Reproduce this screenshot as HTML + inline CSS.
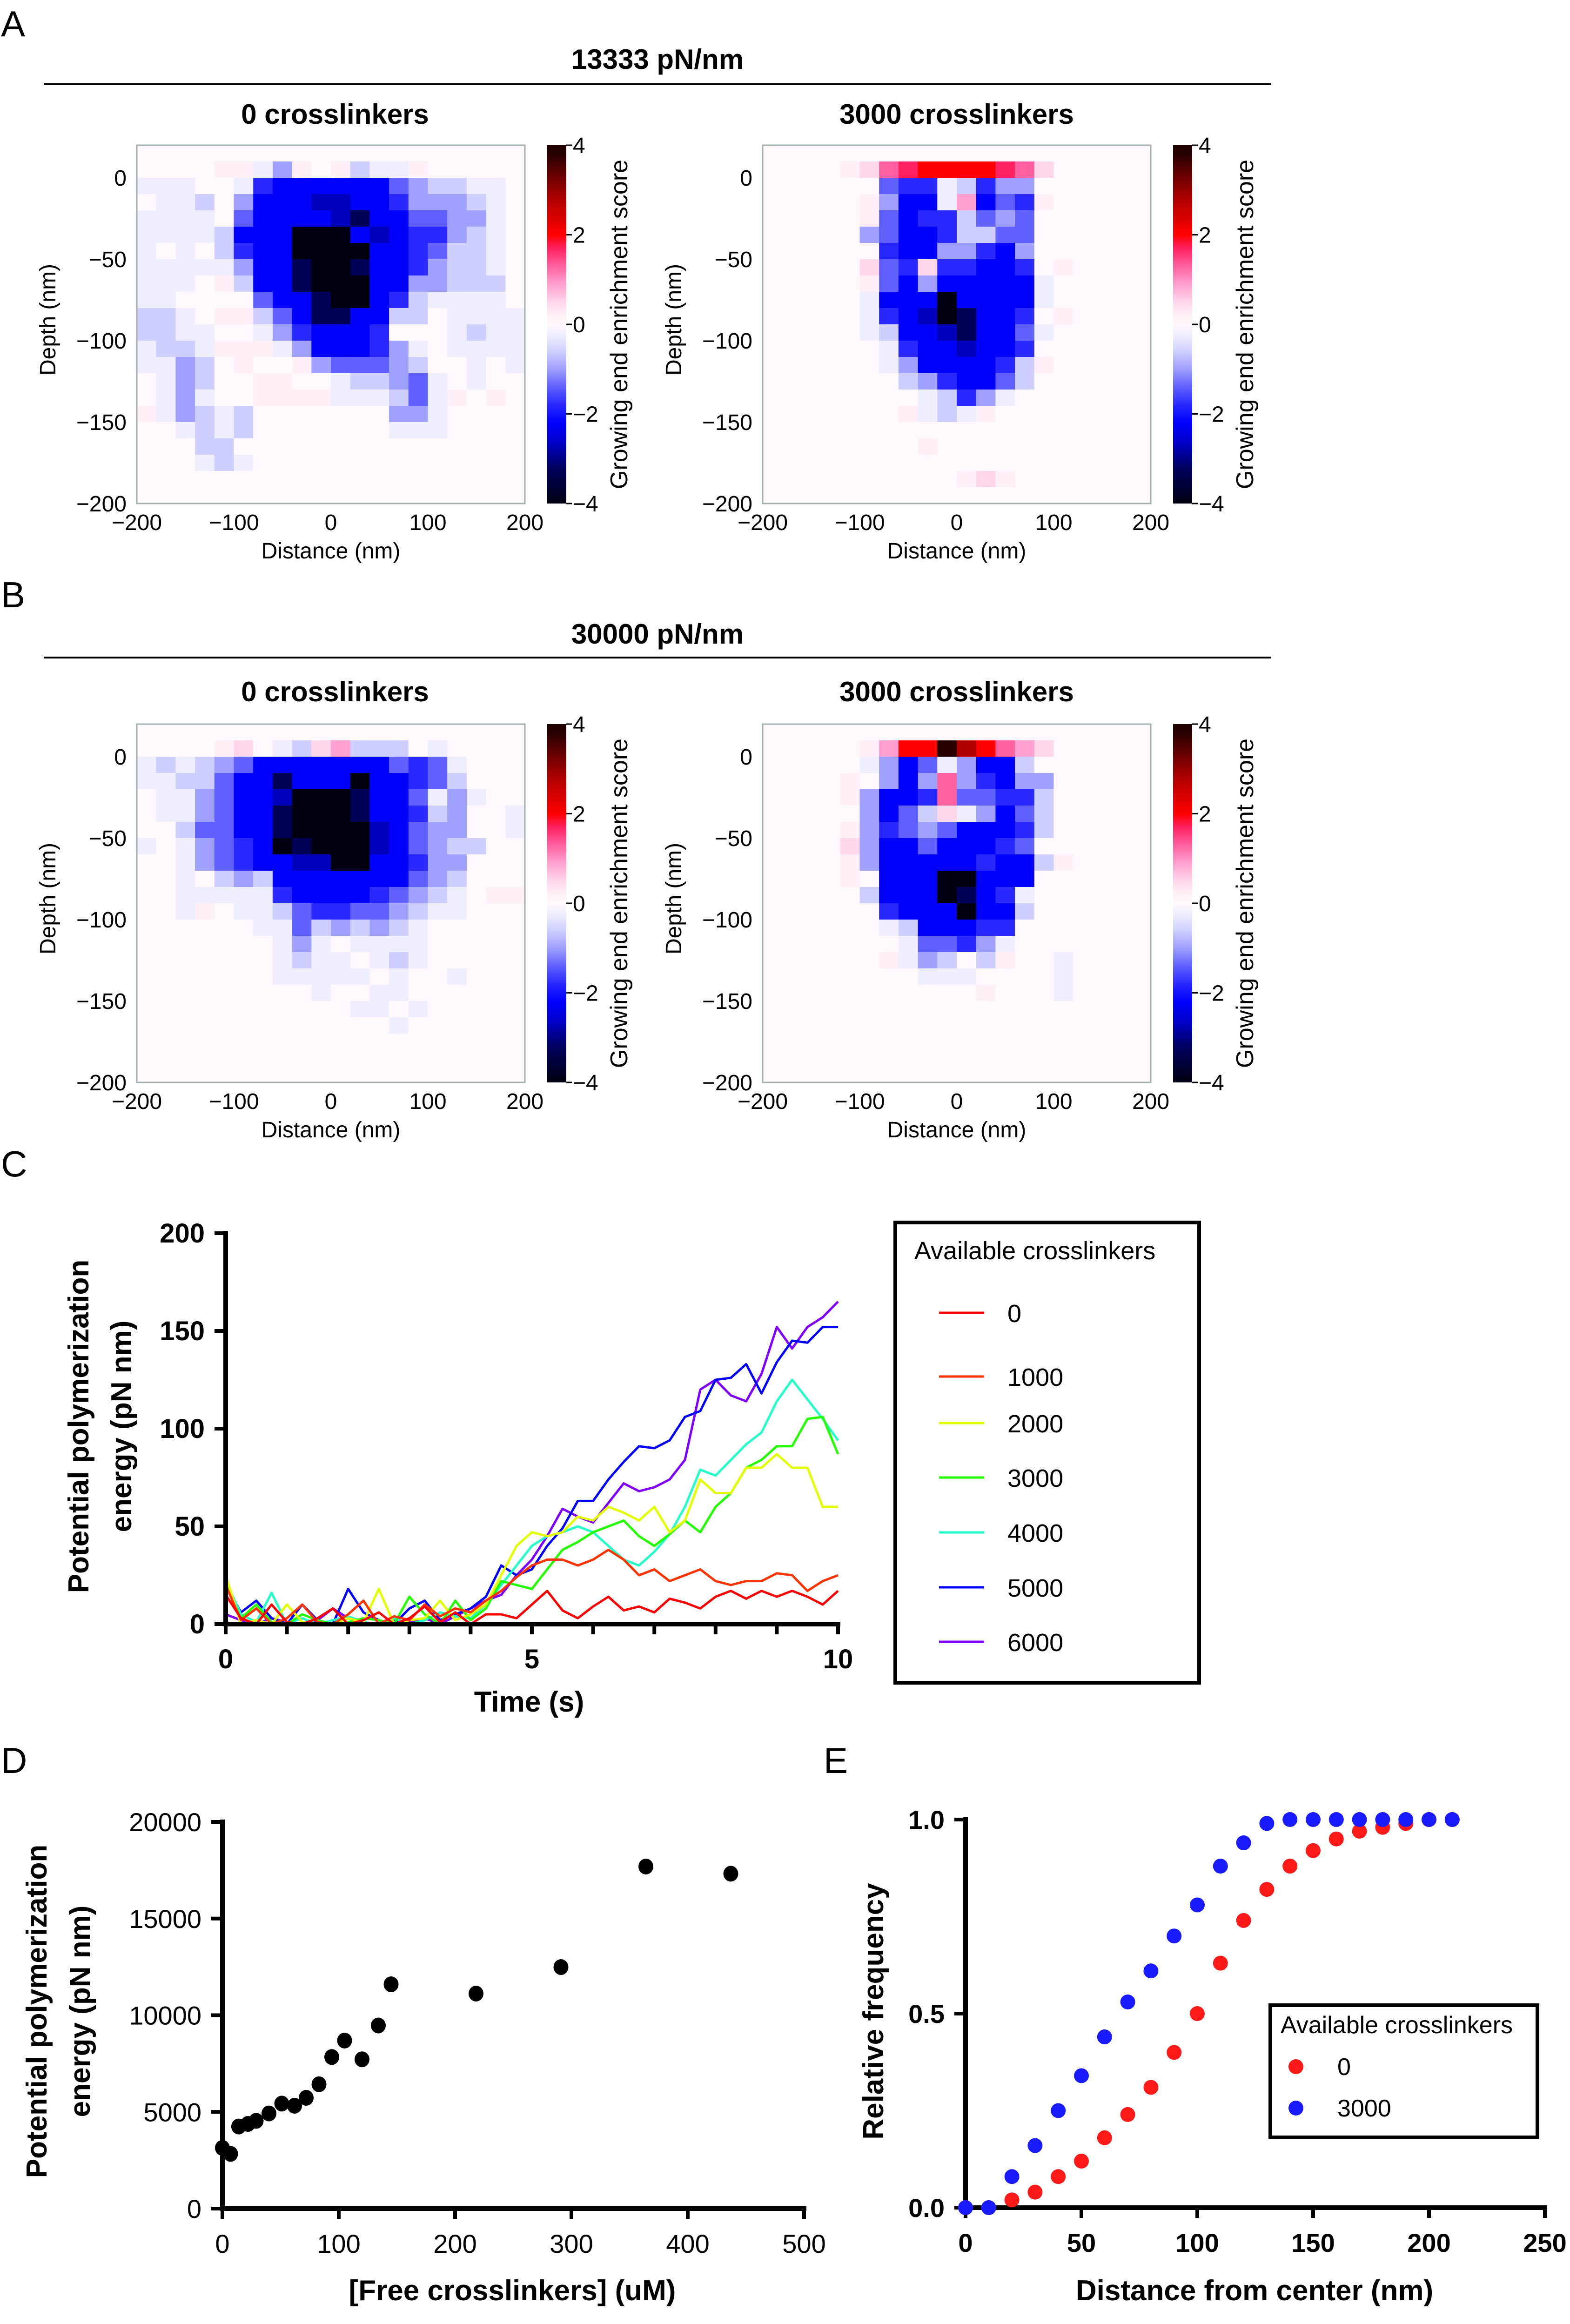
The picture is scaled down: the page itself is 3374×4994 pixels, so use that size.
<!DOCTYPE html>
<html><head><meta charset="utf-8">
<style>
html,body{margin:0;padding:0;background:#fff;}
svg{display:block;font-family:"Liberation Sans",Arial,sans-serif;}
</style></head>
<body>
<svg id="fig" xmlns="http://www.w3.org/2000/svg" width="3374" height="4994" viewBox="0 0 3374 4994">
<defs>
<linearGradient id="cbar" x1="0" y1="1" x2="0" y2="0"></linearGradient>
</defs>
<rect x="0" y="0" width="3374" height="4994" fill="#fff"/>
<g id="root"></g>
</svg>
<script>
// ===== Heatmap data: each char is an enrichment score level =====
const levelChars = ['9','8','7','6','5','4','3','2','1','0','p','q','r','s','t','R','D','K'];
const levelScores = [-4,-3.3,-2.7,-2.2,-1.8,-1.4,-1.0,-0.6,-0.25,0,0.2,0.5,0.9,1.3,1.7,2.0,2.8,3.8];

const heatA0 = [
"00000000000000000000",
"0000pp13p0p211p00000",
"11100156666664322110",
"01120366677665333210",
"11110466667866443310",
"11112666999676553210",
"10102566999966542210",
"11111366899866532210",
"1110p266899966332220",
"11000046689965211110",
"2210pp24688662201111",
"22110013566650001211",
"1221ppp1366653101111",
"11320p00p34443200101",
"013200pp001223410100",
"013100pppp111241p0p0",
"p1321200000003310000",
"00121200000001110000",
"00022000000000000000",
"00012100000000000000",
"00000000000000000000",
"00000000000000000000"];
const heatA3000 = [
"00000000000000000000",
"0000pqstRRRRtsq00000",
"00000045512533000000",
"00000p3661r645p00000",
"00000p46552434000000",
"00000346652244000000",
"00000056633563000000",
"00000q45q556650p0000",
"00000p46366666100000",
"00000166696666100000",
"000001567986650p0000",
"00000126678664100000",
"00000015667665000000",
"00000013666652p00000",
"00000002356642000000",
"00000000125310000000",
"0000000p121p00000000",
"00000000000000000000",
"00000000p00000000000",
"00000000000000000000",
"0000000000pqp0000000",
"00000000000000000000"];
const heatB0 = [
"00000000000000000000",
"0000pq012qr222010000",
"12123466666664541000",
"11224668666966542000",
"01134667999866413100",
"01134668999866523001",
"00244668999976433001",
"10134569899976432200",
"00134566779966533000",
"00102326666666432000",
"001111156666543210pp",
"001p0112455443211000",
"00000011423232100000",
"00000001310111100000",
"00000001211012100000",
"00000001111101001000",
"00000000010011000000",
"00000000000110100000",
"00000000000001000000",
"00000000000000000000",
"00000000000000000000",
"00000000000000000000"];
const heatB3000 = [
"00000000000000000000",
"00000prRRKDRsrq00000",
"00000136413662000000",
"0000p0363s3563300000",
"0000p3665s4455200000",
"000003642q1364200000",
"0000p354346665200000",
"0000q366466654000000",
"0000p3666665662p0000",
"0000p066699666000000",
"00000266698651000000",
"00000056669662000000",
"00000012666550000000",
"00000001445310000000",
"000000p13202p0010000",
"00000000111000010000",
"00000000000p00010000",
"00000000000000000000",
"00000000000000000000",
"00000000000000000000",
"00000000000000000000",
"00000000000000000000"];
const heatXTicks = [-200,-100,0,100,200];
const heatYTicks = [0,-50,-100,-150,-200];
const cbarTicks = [4,2,0,-2,-4];

// ===== Panel C: potential polymerization energy traces (t = 0..10 s, 0.25 s step) =====
const cTimes = Array.from({length:41},(_,i)=>i*0.25);
const cSeriesNames = ['0','1000','2000','3000','4000','5000','6000'];
const cRed0    = [15,3,0,10,1,0,3,8,0,2,6,0,3,9,1,6,0,5,5,3,10,17,7,3,9,14,7,9,6,13,11,8,14,17,13,17,14,17,14,10,17];
const cRed1000 = [20,2,8,0,3,10,1,0,5,12,0,4,2,10,4,8,6,12,17,24,30,33,33,30,33,38,33,25,28,22,25,28,22,20,22,22,26,25,17,22,25];
const cY2000   = [25,0,2,0,10,1,0,0,3,1,18,0,2,3,12,2,5,10,25,40,47,45,47,55,53,60,57,53,60,47,53,74,67,67,80,80,87,80,80,60,60];
const cG3000   = [20,3,10,1,0,5,2,0,1,3,2,0,14,5,0,12,2,8,22,20,18,28,38,42,47,50,53,45,40,46,53,47,60,67,80,84,91,91,105,106,87];
const cC4000   = [22,5,1,16,0,3,0,2,4,1,0,3,0,2,6,4,3,10,20,30,40,45,47,50,47,40,33,30,37,46,60,79,76,84,92,98,114,125,115,105,94];
const cB5000   = [20,6,12,3,0,10,2,0,18,6,2,0,8,12,2,5,8,14,30,25,28,40,49,63,63,74,83,91,90,94,106,109,125,126,133,118,134,145,144,152,152];
const cP6000   = [5,2,0,3,1,0,2,8,3,1,0,2,1,3,0,4,8,12,15,25,33,45,59,55,52,62,72,68,70,74,84,120,125,117,114,128,152,141,152,157,165];
const cXTicks = [0,5,10];
const cYTicks = [0,50,100,150,200];

// ===== Panel D: energy vs free crosslinkers =====
const dFree   = [0,7,14,22,29,40,51,62,72,83,94,105,120,134,145,218,291,364,437];
const dEnergy = [3140,2830,4245,4380,4540,4920,5430,5320,5730,6430,7840,8690,7720,9470,11600,11120,12490,17690,17320];
const dXTicks = [0,100,200,300,400,500];
const dYTicks = [0,5000,10000,15000,20000];

// ===== Panel E: cumulative relative frequency =====
const eDist    = [0,10,20,30,40,50,60,70,80,90,100,110,120,130,140,150,160,170,180,190,200,210];
const eFreq0   = [0,0,0.02,0.04,0.08,0.12,0.18,0.24,0.31,0.40,0.50,0.63,0.74,0.82,0.88,0.92,0.95,0.97,0.98,0.99,1.0,1.0];
const eFreq3000= [0,0,0.08,0.16,0.25,0.34,0.44,0.53,0.61,0.70,0.78,0.88,0.94,0.99,1.0,1.0,1.0,1.0,1.0,1.0,1.0,1.0];
const eXTicks = [0,50,100,150,200,250];
const eYTicks = [0,0.5,1.0];
</script>
<script>
const NS='http://www.w3.org/2000/svg';
const root=document.getElementById('root');
function mk(tag,attrs,parent){const e=document.createElementNS(NS,tag);for(const k in attrs)e.setAttribute(k,attrs[k]);(parent||root).appendChild(e);return e;}
function fmt(v){return v<0?'\u2212'+Math.abs(v):String(v);}
function txt(s,x,y,size,opts,parent){
  opts=opts||{};
  const a={x:x,y:y,'font-size':size,fill:'#000','text-anchor':opts.anchor||'middle'};
  if(opts.bold)a['font-weight']='bold';
  if(opts.rot!==undefined)a.transform='rotate('+opts.rot+' '+x+' '+y+')';
  const t=mk('text',a,parent);t.textContent=s;return t;
}
// colormap
const cmStops=[[-4,'#000010'],[-3.2,'#000060'],[-2.6,'#0000d0'],[-2.2,'#0000ff'],[-1.8,'#2828ff'],[-1.4,'#6060ff'],[-1.0,'#a0a0ff'],[-0.6,'#cfcfff'],[-0.25,'#eeeeff'],[0,'#fff8fc'],[0.2,'#fff0f7'],[0.5,'#ffd6ea'],[0.9,'#ffa0d0'],[1.3,'#ff60a0'],[1.7,'#ff2060'],[2.0,'#ff0000'],[2.8,'#b00000'],[3.8,'#280000'],[4,'#200000']];
function hex2rgb(h){return[parseInt(h.slice(1,3),16),parseInt(h.slice(3,5),16),parseInt(h.slice(5,7),16)];}
function cmap(s){
  if(s<=cmStops[0][0])return cmStops[0][1];
  for(let i=1;i<cmStops.length;i++){
    if(s<=cmStops[i][0]){
      const[a,ca]=cmStops[i-1],[b,cb]=cmStops[i];const t=(s-a)/(b-a);
      const A=hex2rgb(ca),B=hex2rgb(cb);
      return 'rgb('+A.map((v,k)=>Math.round(v+(B[k]-v)*t)).join(',')+')';
    }
  }
  return cmStops[cmStops.length-1][1];
}
const grad=document.getElementById('cbar');
cmStops.forEach(([s,c])=>{const st=document.createElementNS(NS,'stop');st.setAttribute('offset',((s+4)/8*100)+'%');st.setAttribute('stop-color',c);grad.appendChild(st);});

function heatPanel(rows,ox,oy,name){
  const g=mk('g',{});
  
  
  const W=834,H=770,nx=20,ny=22;
  const xS=v=>ox+(v+200)/400*W;
  const yS=v=>oy+(20-v)/220*H;
  const cw=W/nx,ch=H/ny;
  rows.forEach((row,r)=>{
    for(let c=0;c<row.length;c++){
      const score=levelScores[levelChars.indexOf(row[c])];
      const rc=mk('rect',{x:(ox+c*cw).toFixed(2),y:(oy+r*ch).toFixed(2),width:(cw+0.6).toFixed(2),height:(ch+0.6).toFixed(2),fill:cmap(score)},g);
      
      
    }
  });
  const fr=mk('rect',{x:ox,y:oy,width:W,height:H,fill:'none',stroke:'#a3aeae','stroke-width':3},g);
  
  
  heatXTicks.forEach(v=>{const t=txt(fmt(v),xS(v),oy+H+57,48,{},g);
    
    });
  heatYTicks.forEach(v=>{const t=txt(fmt(v),ox-22,yS(v)+17,48,{anchor:'end'},g);
    
    });
  const xt=txt('Distance (nm)',ox+W/2,oy+H+118,48,{},g);
  
  
  const yt=txt('Depth (nm)',ox-175,oy+H/2-10,48,{rot:-90},g);
  
  
  const cx=ox+882,cwid=41;
  const cb=mk('rect',{x:cx,y:oy,width:cwid,height:H,fill:'url(#cbar)'},g);
  
  
  cbarTicks.forEach(v=>{
    const yy=oy+(4-v)/8*H;
    mk('line',{x1:cx+cwid,x2:cx+cwid+12,y1:yy,y2:yy,stroke:'#000','stroke-width':3},g);
    const t=txt(fmt(v),cx+cwid+14,yy+17,48,{anchor:'start'},g);
    
    
  });
  const ct=txt('Growing end enrichment score',cx+172,oy+H/2,52,{rot:-90},g);
  
  
}
heatPanel(heatA0,294,312,'heatmap-a-0-crosslinkers');
heatPanel(heatA3000,1639,312,'heatmap-a-3000-crosslinkers');
heatPanel(heatB0,294,1556,'heatmap-b-0-crosslinkers');
heatPanel(heatB3000,1639,1556,'heatmap-b-3000-crosslinkers');

(function(){
  const g=mk('g',{});
  
  
  const x0=485,x1=1801,y0=3490,y1=2650;
  const xS=v=>x0+v/10*(x1-x0), yS=v=>y0-v/200*(y0-y1);
  const colors=['#ff0000','#ff3300','#e2ff00','#22ff00','#22ffc8','#0000ff','#8000ff'];
  const series=[cRed0,cRed1000,cY2000,cG3000,cC4000,cB5000,cP6000];
  const order=[6,5,4,3,2,1,0];
  order.forEach(k=>{
    const d=series[k].map((v,i)=>(i?'L':'M')+xS(cTimes[i]).toFixed(1)+' '+yS(v).toFixed(1)).join(' ');
    const p=mk('path',{d:d,fill:'none',stroke:colors[k],'stroke-width':5,'stroke-linejoin':'round'},g);
    
    
  });
  mk('line',{x1:x0,x2:x1+5,y1:y0,y2:y0,stroke:'#000','stroke-width':10},g);
  mk('line',{x1:x0,x2:x0,y1:y0+5,y2:y1-5,stroke:'#000','stroke-width':10},g);
  for(let s=0;s<=10;s++){mk('line',{x1:xS(s),x2:xS(s),y1:y0,y2:y0+22,stroke:'#000','stroke-width':8},g);}
  cXTicks.forEach(v=>{const t=txt(String(v),xS(v),y0+95,58,{bold:true},g);
    
    });
  cYTicks.forEach(v=>{mk('line',{x1:x0-24,x2:x0,y1:yS(v),y2:yS(v),stroke:'#000','stroke-width':8},g);
    const t=txt(String(v),x0-45,yS(v)+20,58,{bold:true,anchor:'end'},g);
    
    });
  const xt=txt('Time (s)',1137,3678,62,{bold:true},g);
  
  
  const y1t=txt('Potential polymerization',190,3065,62,{bold:true,rot:-90},g);
  
  
  const y2t=txt('energy (pN nm)',282,3065,62,{bold:true,rot:-90},g);
  
  
  const lg=mk('g',{},g);
  
  
  mk('rect',{x:1924,y:2627,width:653,height:989,fill:'#fff',stroke:'#000','stroke-width':8},lg);
  txt('Available crosslinkers',1965,2706,54,{anchor:'start'},lg);
  const ly=[2821,2958,3058,3175,3293,3411,3528];
  cSeriesNames.forEach((n,k)=>{
    const ln=mk('line',{x1:2018,x2:2115,y1:ly[k],y2:ly[k],stroke:colors[k],'stroke-width':5},lg);
    
    
    const t=txt(n,2165,ly[k]+20,54,{anchor:'start'},lg);
    
    
  });
})();

(function(){
  const g=mk('g',{});
  
  
  const x0=478,x1=1728,y0=4746,y1=3915;
  const xS=v=>x0+v/500*(x1-x0), yS=v=>y0-v/20000*(y0-y1);
  mk('line',{x1:x0,x2:x1+5,y1:y0,y2:y0,stroke:'#000','stroke-width':10},g);
  mk('line',{x1:x0,x2:x0,y1:y0+5,y2:y1-5,stroke:'#000','stroke-width':10},g);
  dXTicks.forEach(v=>{mk('line',{x1:xS(v),x2:xS(v),y1:y0,y2:y0+22,stroke:'#000','stroke-width':8},g);
    const t=txt(String(v),xS(v),y0+95,56,{},g);
    
    });
  dYTicks.forEach(v=>{mk('line',{x1:x0-24,x2:x0,y1:yS(v),y2:yS(v),stroke:'#000','stroke-width':8},g);
    const t=txt(String(v),x0-45,yS(v)+20,56,{anchor:'end'},g);
    
    });
  dFree.forEach((v,i)=>{const c=mk('ellipse',{cx:xS(v),cy:yS(dEnergy[i]),rx:16,ry:17,fill:'#000'},g);
    
    });
  const xt=txt('[Free crosslinkers] (uM)',1101,4943,62,{bold:true},g);
  
  
  const y1t=txt('Potential polymerization',100,4322,62,{bold:true,rot:-90},g);
  
  
  const y2t=txt('energy (pN nm)',193,4322,62,{bold:true,rot:-90},g);
  
  
})();

(function(){
  const g=mk('g',{});
  
  
  const x0=2075,x1=3320,y0=4744,y1=3910;
  const xS=v=>x0+v/250*(x1-x0), yS=v=>y0-v*(y0-y1);
  mk('line',{x1:x0,x2:x1+5,y1:y0,y2:y0,stroke:'#000','stroke-width':10},g);
  mk('line',{x1:x0,x2:x0,y1:y0+5,y2:y1-5,stroke:'#000','stroke-width':10},g);
  eXTicks.forEach(v=>{mk('line',{x1:xS(v),x2:xS(v),y1:y0,y2:y0+22,stroke:'#000','stroke-width':8},g);
    const t=txt(String(v),xS(v),y0+95,56,{bold:true},g);
    
    });
  eYTicks.forEach(v=>{mk('line',{x1:x0-24,x2:x0,y1:yS(v),y2:yS(v),stroke:'#000','stroke-width':8},g);
    const t=txt(v.toFixed(1),x0-45,yS(v)+20,56,{bold:true,anchor:'end'},g);
    
    });
  eDist.forEach((v,i)=>{const c=mk('circle',{cx:xS(v),cy:yS(eFreq0[i]),r:16,fill:'#ff1a1a'},g);
    
    });
  eDist.forEach((v,i)=>{const c=mk('circle',{cx:xS(v),cy:yS(eFreq3000[i]),r:16,fill:'#1a1aff'},g);
    
    });
  const xt=txt('Distance from center (nm)',2696,4943,62,{bold:true},g);
  
  
  const yt=txt('Relative frequency',1898,4322,62,{bold:true,rot:-90},g);
  
  
  const lg=mk('g',{},g);
  
  
  mk('rect',{x:2730,y:4309,width:574,height:284,fill:'#fff',stroke:'#000','stroke-width':8},lg);
  txt('Available crosslinkers',2752,4369,52,{anchor:'start'},lg);
  mk('circle',{cx:2785,cy:4441,r:16,fill:'#ff1a1a'},lg);
  const l0=txt('0',2874,4459,52,{anchor:'start'},lg);
  
  
  mk('circle',{cx:2785,cy:4530,r:16,fill:'#1a1aff'},lg);
  const l1=txt('3000',2874,4548,52,{anchor:'start'},lg);
  
  
})();
</script>
<svg style="position:absolute;left:0;top:0" width="3374" height="4994" xmlns="http://www.w3.org/2000/svg">
<g font-family="Liberation Sans, Arial, sans-serif" fill="#000">
<text x="2" y="78" font-size="78">A</text>
<text x="1413" y="148" font-size="60" font-weight="bold" text-anchor="middle">13333 pN/nm</text>
<line x1="95" y1="181" x2="2731" y2="181" stroke="#000" stroke-width="4"/>
<text x="720" y="266" font-size="60" font-weight="bold" text-anchor="middle">0 crosslinkers</text>
<text x="2056" y="266" font-size="60" font-weight="bold" text-anchor="middle">3000 crosslinkers</text>
<text x="2" y="1305" font-size="78">B</text>
<text x="1413" y="1383" font-size="60" font-weight="bold" text-anchor="middle">30000 pN/nm</text>
<line x1="95" y1="1413" x2="2731" y2="1413" stroke="#000" stroke-width="4"/>
<text x="720" y="1507" font-size="60" font-weight="bold" text-anchor="middle">0 crosslinkers</text>
<text x="2056" y="1507" font-size="60" font-weight="bold" text-anchor="middle">3000 crosslinkers</text>
<text x="2" y="2528" font-size="78">C</text>
<text x="2" y="3810" font-size="78">D</text>
<text x="1770" y="3810" font-size="78">E</text>
</g>
</svg>
</body></html>
